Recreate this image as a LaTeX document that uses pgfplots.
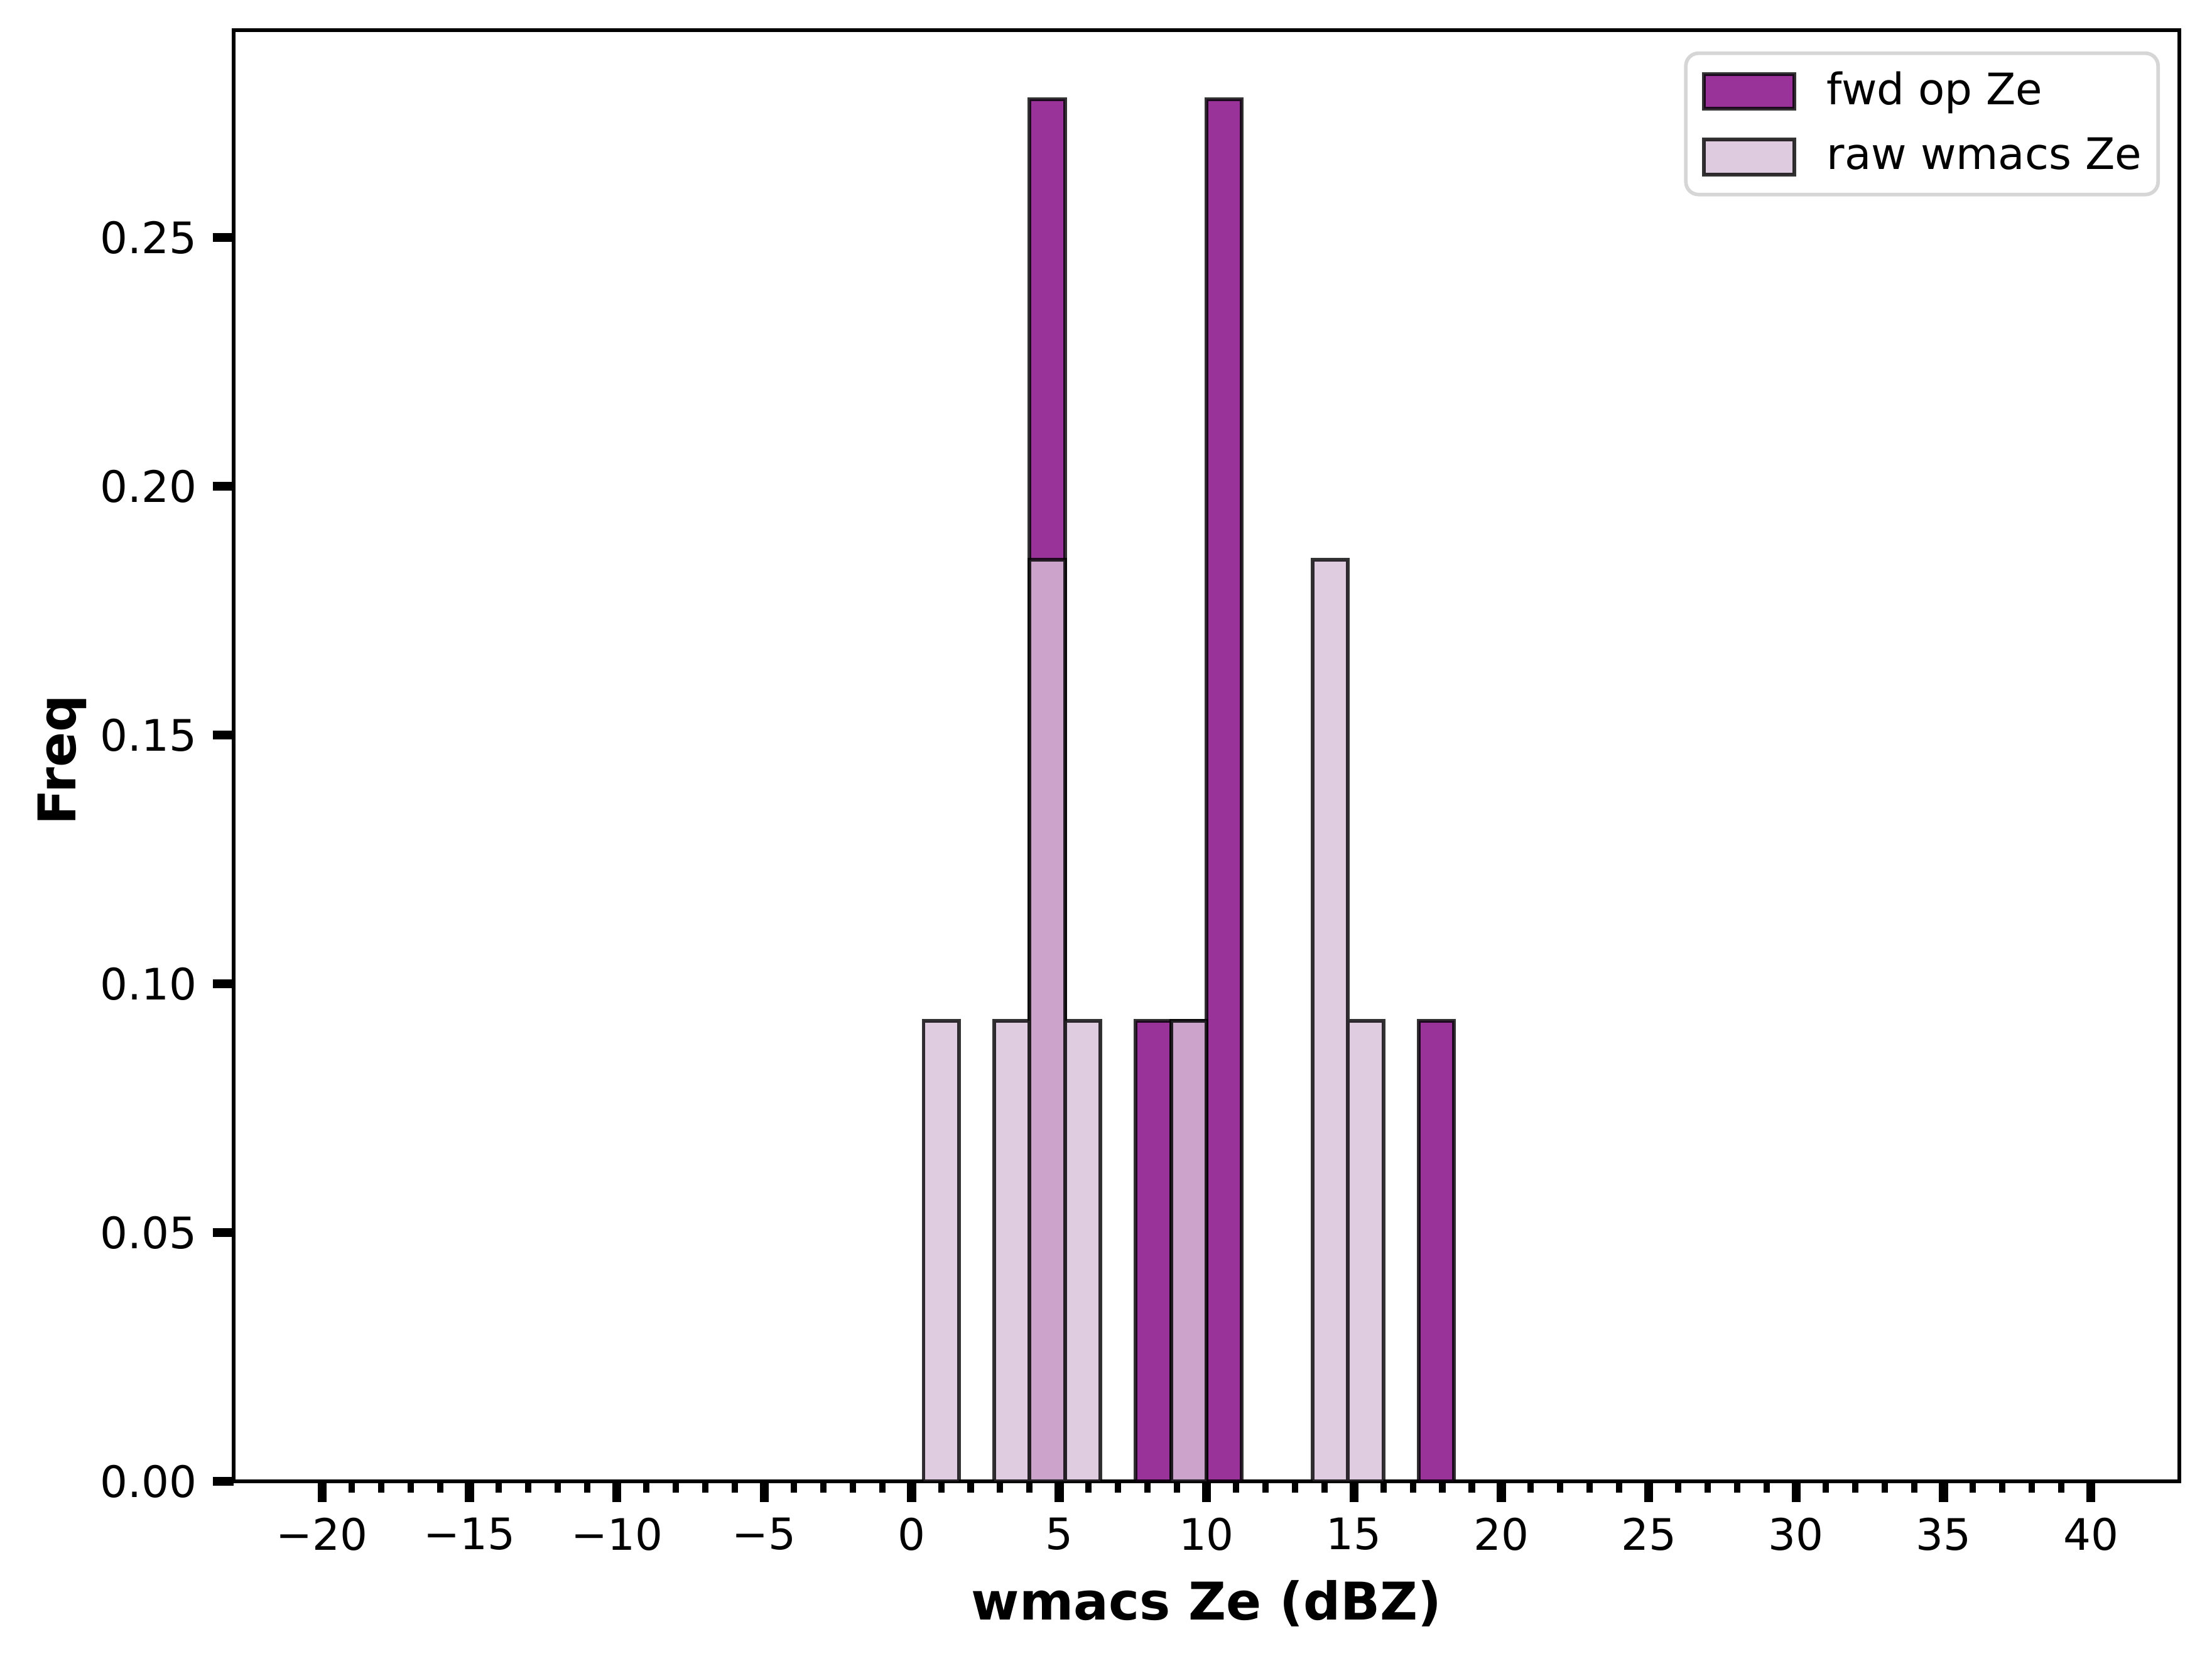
\documentclass[border=0pt]{standalone}
\usepackage{pgfplots}
\pgfplotsset{compat=1.18}
\usepackage{fontspec}
\setmainfont{DejaVu Sans}
\definecolor{fwdc}{HTML}{800080}
\definecolor{rawc}{HTML}{D8BFD8}
\definecolor{legedge}{HTML}{D6D6D6}
\pgfplotsset{barlegend/.style={legend image code/.code={\draw[##1,sharp corners,line width=0.8pt] (0pt,-3.85pt) rectangle (20pt,3.85pt);}}}
\begin{document}
\begin{tikzpicture}
\useasboundingbox (-51.667pt,-39.722pt) rectangle (437.5pt,327.5pt);
\begin{axis}[
  at={(0,0)}, anchor=south west,
  scale only axis, width=430.28pt, height=320.83pt,
  xmin=-23, xmax=43, ymin=0, ymax=0.29167,
  axis line style={line width=0.8pt},
  tick align=outside, tick pos=left,
  xtick={-20,-15,-10,-5,0,5,10,15,20,25,30,35,40},
  xticklabels={−20,−15,−10,−5,0,5,10,15,20,25,30,35,40},
  minor x tick num=4,
  ytick={0,0.05,0.1,0.15,0.2,0.25},
  yticklabels={0.00,0.05,0.10,0.15,0.20,0.25},
  major tick length=4.6pt, minor tick length=2.5pt,
  every major tick/.append style={line width=2pt, black},
  every minor tick/.append style={line width=1.4pt, black},
  ticklabel style={font=\fontsize{9.6}{11.5}\selectfont},
  xlabel={wmacs Ze (dBZ)}, ylabel={Freq},
  xlabel style={font=\fontsize{11.5}{14}\selectfont\bfseries, at={(axis description cs:0.5,-0.09525)}, anchor=base},
  ylabel style={font=\fontsize{11.5}{14}\selectfont\bfseries, at={(axis description cs:-0.0811,0.497)}, anchor=base},
  legend cell align=left,
  legend style={at={(1,1)}, anchor=north east, xshift=-4.3pt, yshift=-4.7pt,
    draw=legedge, line width=0.8pt, rounded corners=2.8pt, fill=white,
    font=\fontsize{9.6}{11.5}\selectfont, inner xsep=3.6pt, inner ysep=3.05pt,
    row sep=3.85pt, nodes={inner xsep=0pt, inner ysep=1pt},
    /tikz/every odd column/.append style={column sep=6.8pt}},
]
\addplot[ybar, bar width=1.2, bar shift=0pt, fill=fwdc, fill opacity=0.8, draw=black, draw opacity=0.8, line width=0.8pt, barlegend]
  coordinates {(4.6,0.277778) (8.2,0.092593) (9.4,0.092593) (10.6,0.277778) (17.8,0.092593)};
\addlegendentry{fwd op Ze}
\addplot[ybar, bar width=1.2, bar shift=0pt, fill=rawc, fill opacity=0.8, draw=black, draw opacity=0.8, line width=0.8pt, barlegend]
  coordinates {(1.0,0.092593) (3.4,0.092593) (4.6,0.185185) (5.8,0.092593) (9.4,0.092593) (14.2,0.185185) (15.4,0.092593)};
\addlegendentry{raw wmacs Ze}
\end{axis}
\end{tikzpicture}
\end{document}
